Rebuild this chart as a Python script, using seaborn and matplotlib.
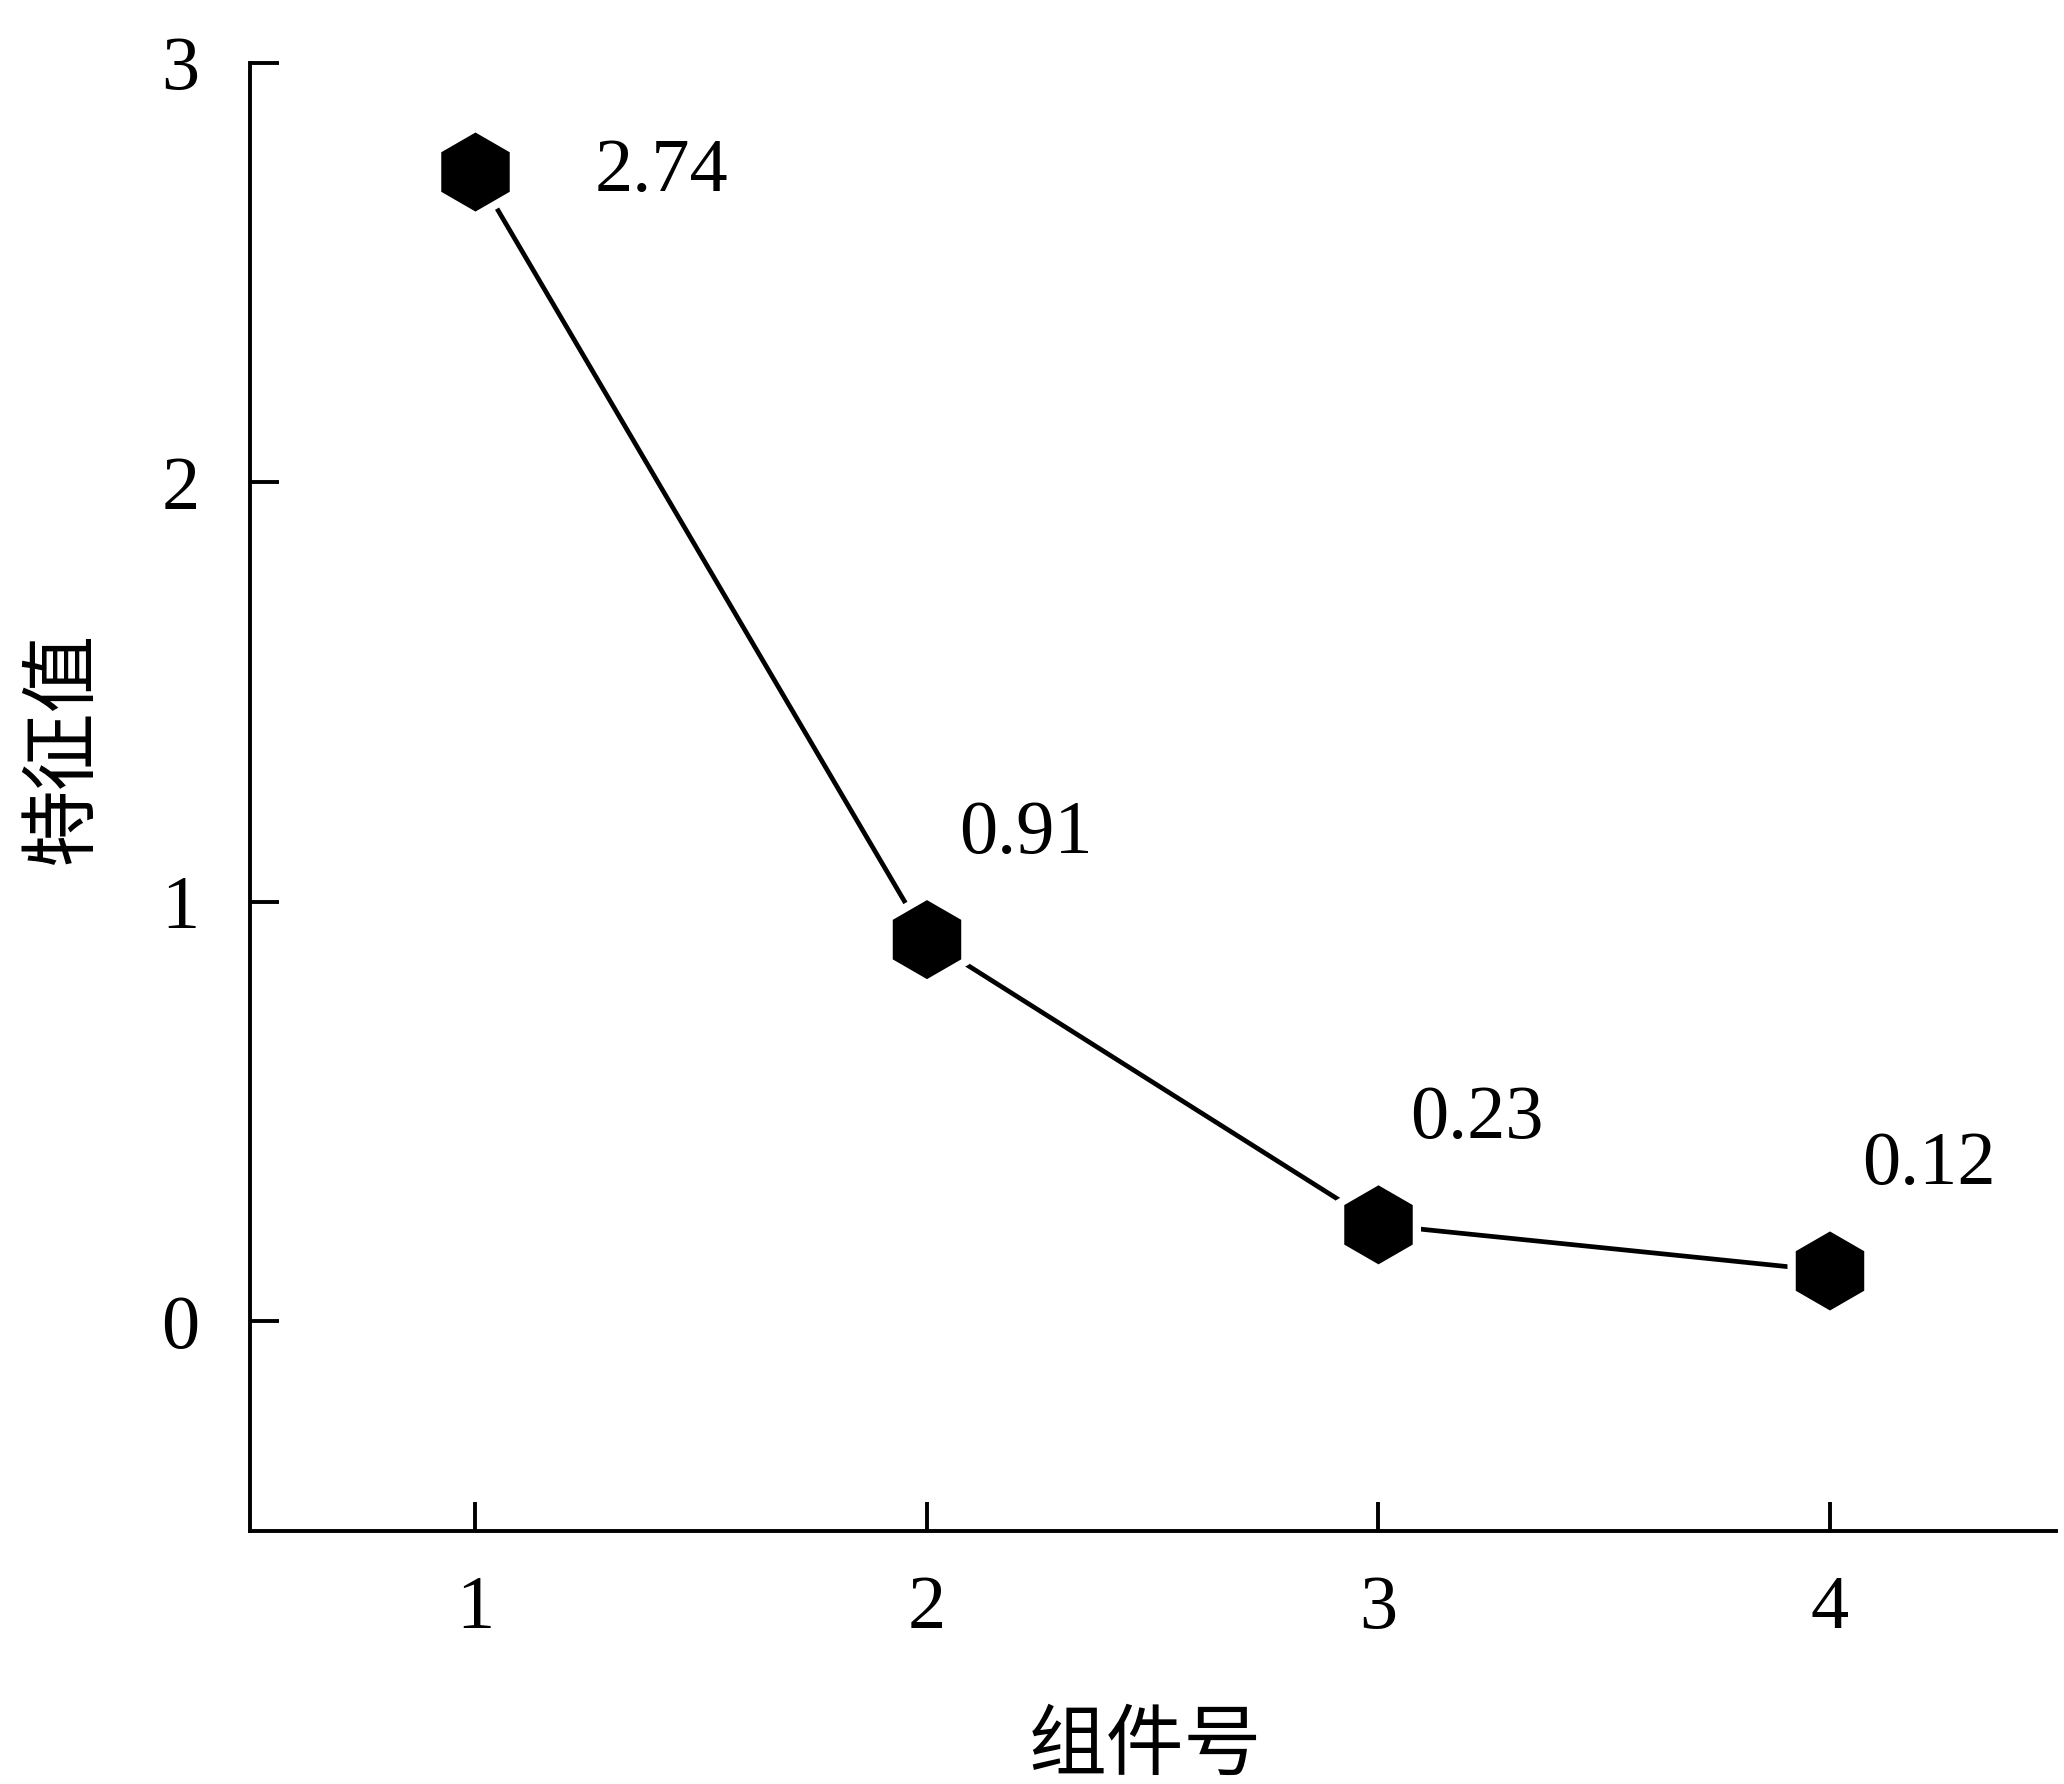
import matplotlib
matplotlib.use('Agg')
import matplotlib.pyplot as plt
import seaborn as sns
import pandas as pd

components = [1, 2, 3, 4]
eigenvalues = [2.74, 0.91, 0.23, 0.12]
value_labels = ['2.74', '0.91', '0.23', '0.12']
x_label = '组件号'
y_label = '特征值'

sns.set_style('ticks')
plt.rcParams['font.family'] = ['Liberation Serif', 'Noto Sans CJK SC']
plt.rcParams['text.color'] = 'black'
plt.rcParams['xtick.color'] = 'black'
plt.rcParams['ytick.color'] = 'black'
plt.rcParams['axes.labelcolor'] = 'black'

df = pd.DataFrame({'component': components, 'eigenvalue': eigenvalues})

fig = plt.figure(figsize=(10.32, 8.92), dpi=200)
ax = fig.add_axes([0.121, 0.1418, 0.875, 0.8229])

sns.lineplot(data=df, x='component', y='eigenvalue', color='black', linewidth=1.7, ax=ax)
# white halo so the line stops short of each marker
sns.scatterplot(data=df, x='component', y='eigenvalue', marker='h', s=1250,
                color='white', edgecolor='none', ax=ax, zorder=3)
sns.scatterplot(data=df, x='component', y='eigenvalue', marker='h', s=810,
                color='black', edgecolor='none', ax=ax, zorder=4)

for i, (xv, yv, lab) in enumerate(zip(components, eigenvalues, value_labels)):
    offset = (43, 0) if i == 0 else (11.5, 38)
    ax.annotate(lab, (xv, yv), xytext=offset, textcoords='offset points',
                ha='left', va='center', fontsize=27.5, color='black',
                family='Liberation Serif')

ax.set_xlim(0.5, 4.5)
ax.set_ylim(-0.5, 3)
ax.set_xticks(components)
ax.set_yticks([0, 1, 2, 3])
ax.tick_params(direction='in', length=10.4, width=1.4, labelsize=27.5, pad=16)
ax.tick_params(axis='y', pad=18)

for side in ['top', 'right']:
    ax.spines[side].set_visible(False)
for side in ['left', 'bottom']:
    ax.spines[side].set_linewidth(1.4)
    ax.spines[side].set_color('black')

ax.set_xlabel(x_label, fontsize=28, family=['Noto Sans CJK SC'], fontweight='medium',
              va='center', ha='center')
ax.set_ylabel(y_label, fontsize=28, family=['Noto Sans CJK SC'], fontweight='medium',
              va='center', ha='center')
ax.xaxis.set_label_coords(0.496, -0.147)
ax.yaxis.set_label_coords(-0.1035, 0.534)

fig.savefig('out.png', dpi=200, facecolor='white')
